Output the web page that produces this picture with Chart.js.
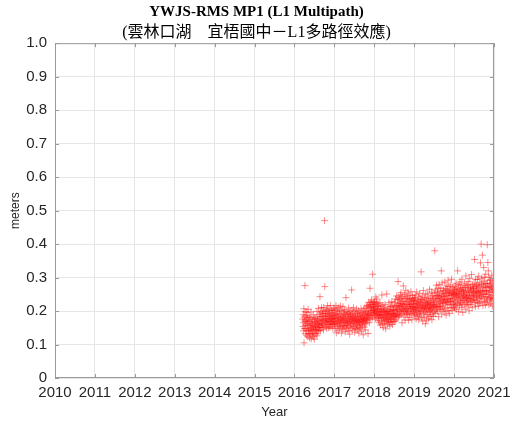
<!DOCTYPE html>
<html>
<head>
<meta charset="utf-8">
<title>YWJS-RMS MP1</title>
<script src="https://cdn.jsdelivr.net/npm/chart.js@4/dist/chart.umd.min.js"></script>
<style>
  body { margin: 0; background: #fff; }
  #mp1-chart { display: block; }
</style>
</head>
<body>
<canvas id="mp1-chart" width="513" height="423"></canvas>
<script>
// RMS MP1 per station, one sample every 2 days, in millimetres
const dayStep = 2;

const mp1_2016 = [ // from day 77
  176, 154, 189, 141, 165, 207, 105, 182, 148, 170, 276, 198, 132, 158, 174,
  148, 187, 128, 169, 196, 141, 162, 180, 123, 157, 205, 144, 171, 133, 184,
  141, 120, 168, 152, 180, 131, 158, 146, 197, 117, 162, 140, 174, 150, 128,
  167, 134, 156, 189, 123, 147, 176, 143, 116, 161, 180, 132, 153, 168, 144,
  154, 178, 132, 166, 145, 199, 126, 159, 172, 138, 184, 150, 162, 208, 142,
  169, 150, 189, 157, 243, 175, 141, 196, 163, 183, 151, 210, 171, 159, 192,
  176, 152, 200, 164, 184, 144, 211, 172, 193, 158, 470, 273, 179, 199, 166,
  187, 154, 177, 205, 168, 148, 193, 174, 216, 160, 183, 201, 169, 150, 190,
  171, 207, 161, 183, 152, 195, 177, 164, 216, 188, 155, 174, 201, 167, 180,
  160, 194, 176, 148, 203, 170, 187, 163, 209, 179
];

const mp1_2017 = [
  185, 159, 203, 168, 149, 192, 176, 216, 164, 135, 189, 170, 206, 153, 179,
  197, 162, 141, 183, 173, 210, 156, 191, 167, 147, 200, 180, 161, 215, 174,
  153, 188, 170, 134, 201, 165, 183, 146, 176, 213, 157, 194, 171, 150, 186,
  177, 204, 155, 167, 191, 138, 180, 164, 240, 198, 156, 173, 147, 189, 168,
  161, 195, 176, 141, 183, 209, 165, 152, 192, 171, 131, 179, 200, 158, 185,
  168, 149, 189, 176, 263, 162, 203, 143, 182, 170, 194, 153, 174, 210, 164,
  186, 155, 177, 137, 198, 167, 180, 147, 191, 171, 159, 206, 173, 149, 183,
  165, 192, 144, 176, 158, 201, 170, 134, 185, 168, 152, 195, 177, 161, 188,
  149, 174, 207, 164, 183, 140, 171, 197, 156, 180, 167, 191, 129, 176, 203,
  168, 186, 152, 177, 209, 161, 192, 171, 144, 198, 180, 164, 215, 176, 189,
  195, 173, 216, 183, 133, 209, 190, 226, 177, 201, 165, 220, 186, 268, 212,
  194, 226, 176, 214, 200, 233, 187, 209, 220, 181, 310, 203, 227, 192, 215,
  204, 224, 196
];

const mp1_2018 = [
  210, 188, 228, 201, 176, 219, 194, 242, 207, 182, 224, 198, 236, 189, 215,
  203, 179, 213, 192, 171, 221, 186, 207, 165, 198, 182, 225, 190, 158, 204,
  187, 214, 170, 196, 178, 248, 203, 161, 190, 217, 182, 151, 199, 175, 209,
  180, 201, 163, 189, 220, 172, 195, 147, 184, 205, 168, 192, 251, 177, 198,
  186, 159, 209, 176, 197, 170, 189, 225, 165, 203, 182, 155, 192, 213, 174,
  198, 177, 214, 165, 189, 228, 181, 202, 160, 193, 217, 184, 169, 204, 187,
  203, 176, 226, 193, 169, 212, 185, 236, 197, 173, 217, 190, 245, 206, 181,
  212, 191, 233, 202, 288, 223, 184, 241, 206, 218, 187, 235, 197, 214, 248,
  223, 199, 255, 189, 216, 237, 205, 165, 228, 210, 244, 193, 220, 275, 202,
  230, 182, 214, 250, 200, 221, 173, 238, 208, 262, 191, 224, 205, 242, 196,
  220, 188, 236, 208, 254, 199, 173, 227, 212, 247, 191, 218, 233, 181, 214,
  238, 202, 220, 258, 193, 228, 208, 174, 235, 214, 247, 198, 222, 205, 231,
  211, 189, 240
];

const mp1_2019 = [
  221, 195, 237, 209, 186, 230, 204, 248, 213, 177, 225, 200, 257, 218, 191,
  210, 233, 183, 222, 201, 242, 174, 215, 228, 194, 252, 207, 188, 219, 236,
  198, 224, 317, 211, 180, 234, 203, 245, 216, 170, 227, 206, 261, 192, 213,
  232, 182, 209, 240, 200, 221, 162, 215, 250, 196, 226, 208, 173, 236, 218,
  189, 222, 253, 204, 229, 211, 177, 238, 198, 219, 265, 208, 184, 226, 202,
  215, 242, 189, 222, 206, 257, 174, 231, 210, 246, 195, 219, 236, 184, 213,
  226, 200, 253, 217, 380, 236, 193, 263, 214, 242, 203, 229, 277, 209, 247,
  220, 256, 198, 238, 267, 214, 247, 183, 231, 279, 210, 243, 223, 259, 204,
  238, 214, 269, 226, 320, 248, 191, 235, 284, 215, 253, 229, 203, 262, 242,
  224, 260, 207, 243, 231, 287, 198, 251, 221, 267, 234, 188, 255, 227, 275,
  246, 210, 264, 235, 225, 292, 201, 253, 238, 273, 219, 258, 193, 247, 229,
  262, 229, 278, 209, 251, 238, 295, 218, 257, 202, 245, 271, 232, 254, 221,
  250, 212, 266
];

const mp1_2020 = [
  236, 262, 209, 250, 227, 274, 218, 254, 241, 283, 205, 247, 265, 224, 257,
  243, 320, 221, 269, 233, 252, 198, 279, 239, 260, 216, 248, 287, 230, 266,
  226, 251, 277, 211, 259, 238, 295, 220, 263, 242, 196, 271, 232, 254, 245,
  263, 221, 247, 283, 233, 259, 206, 271, 242, 305, 226, 254, 238, 277, 215,
  249, 230, 269, 240, 288, 219, 260, 236, 278, 201, 255, 245, 297, 227, 266,
  237, 272, 220, 260, 246, 309, 230, 263, 210, 279, 251, 233, 269, 242, 257,
  267, 235, 283, 247, 354, 225, 273, 256, 214, 294, 252, 231, 277, 259, 240,
  269, 244, 295, 227, 262, 278, 215, 256, 304, 238, 274, 248, 223, 284, 257,
  244, 344, 262, 227, 400, 280, 248, 298, 236, 269, 367, 257, 217, 289, 251,
  275, 330, 239, 262, 301, 229, 281, 251, 218, 271, 310, 242, 283, 259, 226,
  261, 243, 398, 283, 232, 345, 270, 320, 250, 301, 219, 274, 256, 292, 237,
  274, 241, 293, 223, 260, 281, 235, 269, 307, 247, 215, 265, 287, 238, 256,
  278, 230, 266
];

const yearTicks = [2010, 2011, 2012, 2013, 2014, 2015, 2016, 2017, 2018, 2019, 2020, 2021];
const meterTicks = [0, 0.1, 0.2, 0.3, 0.4, 0.5, 0.6, 0.7, 0.8, 0.9, 1.0];

const chunks = [
  { year: 2016, firstDay: 77, values: mp1_2016 },
  { year: 2017, firstDay: 1, values: mp1_2017 },
  { year: 2018, firstDay: 1, values: mp1_2018 },
  { year: 2019, firstDay: 1, values: mp1_2019 },
  { year: 2020, firstDay: 1, values: mp1_2020 },
];

function toPoints(chunk) {
  const daysInYear = chunk.year % 4 === 0 ? 366 : 365;
  return chunk.values.map((v, i) => ({
    x: chunk.year + (chunk.firstDay - 1 + i * dayStep) / daysInYear,
    y: v / 1000,
  }));
}

const points = chunks.flatMap(toPoints);

const axisColor = "#9a9a9a";
const textColor = "#262626";

// MATLAB-like box: frame on all four sides, ticks pointing inward
const boxPlugin = {
  id: "boxFrame",
  afterDatasetsDraw(chart) {
    const { ctx, chartArea: a, scales } = chart;
    ctx.save();
    ctx.strokeStyle = axisColor;
    ctx.lineWidth = 1;
    ctx.strokeRect(a.left + 0.5, a.top + 0.5, a.right - a.left - 1, a.bottom - a.top - 1);
    ctx.beginPath();
    const tl = 4;
    yearTicks.forEach((t) => {
      const x = Math.round(scales.x.getPixelForValue(t)) + 0.5;
      ctx.moveTo(x, a.bottom);
      ctx.lineTo(x, a.bottom - tl);
      ctx.moveTo(x, a.top);
      ctx.lineTo(x, a.top + tl);
    });
    meterTicks.forEach((t) => {
      const y = Math.round(scales.y.getPixelForValue(t)) + 0.5;
      ctx.moveTo(a.left, y);
      ctx.lineTo(a.left + tl, y);
      ctx.moveTo(a.right, y);
      ctx.lineTo(a.right - tl, y);
    });
    ctx.stroke();
    ctx.restore();
  },
};

const ctx = document.getElementById("mp1-chart");

new Chart(ctx, {
  type: "scatter",
  data: {
    datasets: [
      {
        label: "MP1",
        data: points,
        pointStyle: "cross",
        pointRadius: 3.5,
        pointHoverRadius: 3.5,
        borderWidth: 1,
        borderColor: "rgba(255, 0, 0, 0.45)",
        backgroundColor: "rgba(255, 0, 0, 0.45)",
      },
    ],
  },
  options: {
    responsive: false,
    animation: false,
    events: [],
    layout: {
      padding: 0,
    },
    plugins: {
      legend: { display: false },
      tooltip: { enabled: false },
      title: {
        display: true,
        text: "YWJS-RMS MP1 (L1 Multipath)",
        color: "#000",
        font: { family: "'Liberation Serif', 'Times New Roman', serif", size: 15, weight: "bold" },
        padding: { top: 3, bottom: 0 },
      },
      subtitle: {
        display: true,
        text: "(雲林口湖　宜梧國中－L1多路徑效應)",
        color: "#000",
        font: { family: "'Liberation Serif', 'Noto Sans CJK TC', serif", size: 16 },
        padding: { top: 2, bottom: 1 },
      },
    },
    scales: {
      x: {
        type: "linear",
        min: 2010,
        max: 2021,
        afterFit: (scale) => {
          scale.height = 45;
          scale.paddingRight = 19;
        },
        afterBuildTicks: (scale) => { scale.ticks = yearTicks.map((v) => ({ value: v })); },
        ticks: {
          color: textColor,
          font: { family: "'Liberation Sans', Arial, sans-serif", size: 15 },
          padding: 6,
          maxRotation: 0,
          callback: (v) => String(v),
        },
        grid: { color: "#e6e6e6", drawTicks: false },
        border: { display: false },
        title: {
          display: true,
          text: "Year",
          color: textColor,
          font: { family: "'Liberation Sans', Arial, sans-serif", size: 13 },
          padding: { top: 0, bottom: 3 },
        },
      },
      y: {
        min: 0,
        max: 1,
        afterFit: (scale) => { scale.width = 55; },
        afterBuildTicks: (scale) => { scale.ticks = meterTicks.map((v) => ({ value: v })); },
        ticks: {
          color: textColor,
          font: { family: "'Liberation Sans', Arial, sans-serif", size: 15 },
          padding: 8,
          callback: (v) => (v === 0 ? "0" : v.toFixed(1)),
        },
        grid: { color: "#e6e6e6", drawTicks: false },
        border: { display: false },
        title: {
          display: true,
          text: "meters",
          color: textColor,
          font: { family: "'Liberation Sans', Arial, sans-serif", size: 12 },
          padding: { top: 8, bottom: 0 },
        },
      },
    },
  },
  plugins: [boxPlugin],
});
</script>
</body>
</html>
